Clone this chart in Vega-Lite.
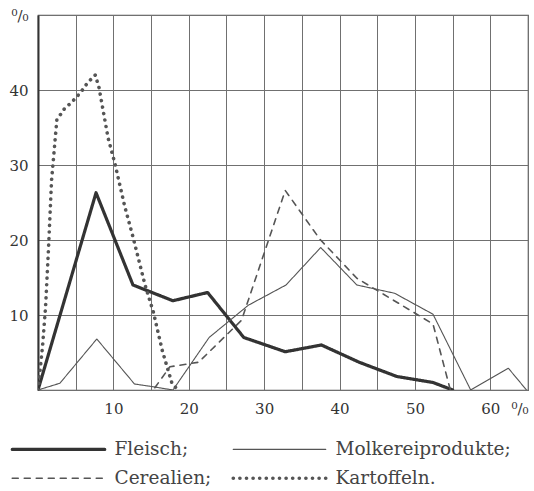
{
  "$schema": "https://vega.github.io/schema/vega-lite/v6.json",
  "width": 490,
  "height": 375,
  "autosize": "none",
  "padding": {"left": 38, "top": 15, "right": 6, "bottom": 101},
  "background": "white",
  "config": {
    "view": {"stroke": "#555", "strokeWidth": 1.2},
    "axis": {"labelFont": "DejaVu Serif", "labelFontSize": 15, "labelColor": "#333", "ticks": false, "gridColor": "#707070", "gridOpacity": 1, "gridWidth": 1, "domainColor": "#333", "title": null},
    "legend": {"labelFont": "DejaVu Serif", "labelFontSize": 18.5, "labelColor": "#444", "title": null, "labelLimit": 400,
      "orient": "none", "legendX": -30, "legendY": 425, "columns": 2, "direction": "horizontal",
      "symbolType": "M-1,0H17.5", "symbolSize": 100, "labelOffset": 88, "columnPadding": 14, "rowPadding": 10}
  },
  "data": {"values": [
    {"s": "Fleisch;", "x": 0, "y": 0},
    {"s": "Fleisch;", "x": 7.7, "y": 26.3},
    {"s": "Fleisch;", "x": 12.6, "y": 14},
    {"s": "Fleisch;", "x": 17.9, "y": 11.9},
    {"s": "Fleisch;", "x": 22.5, "y": 13},
    {"s": "Fleisch;", "x": 27.3, "y": 7},
    {"s": "Fleisch;", "x": 32.8, "y": 5.1},
    {"s": "Fleisch;", "x": 37.6, "y": 6},
    {"s": "Fleisch;", "x": 42.6, "y": 3.7},
    {"s": "Fleisch;", "x": 47.6, "y": 1.8},
    {"s": "Fleisch;", "x": 52.4, "y": 1},
    {"s": "Fleisch;", "x": 55, "y": 0},
    {"s": "Molkereiprodukte;", "x": 0, "y": 0},
    {"s": "Molkereiprodukte;", "x": 2.9, "y": 0.9},
    {"s": "Molkereiprodukte;", "x": 7.8, "y": 6.8},
    {"s": "Molkereiprodukte;", "x": 12.8, "y": 0.8},
    {"s": "Molkereiprodukte;", "x": 15.5, "y": 0.4},
    {"s": "Molkereiprodukte;", "x": 17.9, "y": 0},
    {"s": "Molkereiprodukte;", "x": 22.7, "y": 7},
    {"s": "Molkereiprodukte;", "x": 27.9, "y": 11.3},
    {"s": "Molkereiprodukte;", "x": 32.9, "y": 14},
    {"s": "Molkereiprodukte;", "x": 37.5, "y": 19},
    {"s": "Molkereiprodukte;", "x": 42.3, "y": 14},
    {"s": "Molkereiprodukte;", "x": 47.3, "y": 12.9},
    {"s": "Molkereiprodukte;", "x": 52.4, "y": 10.1},
    {"s": "Molkereiprodukte;", "x": 57.4, "y": 0},
    {"s": "Molkereiprodukte;", "x": 62.4, "y": 2.9},
    {"s": "Molkereiprodukte;", "x": 64.8, "y": 0},
    {"s": "Cerealien;", "x": 15.5, "y": 0.3},
    {"s": "Cerealien;", "x": 17.5, "y": 3.1},
    {"s": "Cerealien;", "x": 21.3, "y": 3.7},
    {"s": "Cerealien;", "x": 27, "y": 9.3},
    {"s": "Cerealien;", "x": 32.8, "y": 26.6},
    {"s": "Cerealien;", "x": 37.4, "y": 20.1},
    {"s": "Cerealien;", "x": 42.3, "y": 14.9},
    {"s": "Cerealien;", "x": 52.4, "y": 8.8},
    {"s": "Cerealien;", "x": 54.7, "y": 0},
    {"s": "Kartoffeln.", "x": 0, "y": 0},
    {"s": "Kartoffeln.", "x": 0.6, "y": 5.8},
    {"s": "Kartoffeln.", "x": 1.0, "y": 11},
    {"s": "Kartoffeln.", "x": 1.4, "y": 19},
    {"s": "Kartoffeln.", "x": 1.8, "y": 28},
    {"s": "Kartoffeln.", "x": 2.5, "y": 36},
    {"s": "Kartoffeln.", "x": 3.5, "y": 37.5},
    {"s": "Kartoffeln.", "x": 4.5, "y": 38.4},
    {"s": "Kartoffeln.", "x": 5.6, "y": 39.6},
    {"s": "Kartoffeln.", "x": 6.6, "y": 41},
    {"s": "Kartoffeln.", "x": 7.6, "y": 42},
    {"s": "Kartoffeln.", "x": 8.1, "y": 40.3},
    {"s": "Kartoffeln.", "x": 9.3, "y": 33.6},
    {"s": "Kartoffeln.", "x": 10.2, "y": 30.2},
    {"s": "Kartoffeln.", "x": 11.5, "y": 24.5},
    {"s": "Kartoffeln.", "x": 12.6, "y": 20.4},
    {"s": "Kartoffeln.", "x": 14.2, "y": 14},
    {"s": "Kartoffeln.", "x": 15.3, "y": 10.4},
    {"s": "Kartoffeln.", "x": 16.5, "y": 5.2},
    {"s": "Kartoffeln.", "x": 17.8, "y": 0.8},
    {"s": "Kartoffeln.", "x": 18.6, "y": 0}
  ]},
  "mark": {"type": "line", "strokeCap": "round", "strokeJoin": "round", "clip": true},
  "encoding": {
    "x": {"field": "x", "type": "quantitative",
      "scale": {"domain": [0, 65], "nice": false, "zero": false},
      "axis": {"values": [0,5,10,15,20,25,30,35,40,45,50,55,60,65], "labelPadding": 11, "domain": false,
        "labelExpr": "datum.value == 65 ? '⁰/₀' : (datum.value % 10 == 0 && datum.value > 0 ? datum.label : '')"}},
    "y": {"field": "y", "type": "quantitative",
      "scale": {"domain": [0, 50], "nice": false},
      "axis": {"values": [0,10,20,30,40,50], "labelPadding": 10, "domainWidth": 2,
        "labelExpr": "datum.value == 50 ? '⁰/₀' : (datum.value == 0 ? '' : datum.label)"}},
    "detail": {"field": "s"},
    "color": {"field": "s", "type": "nominal",
      "scale": {"domain": ["Fleisch;", "Molkereiprodukte;", "Cerealien;", "Kartoffeln."], "range": ["#333333", "#555555", "#555555", "#555555"]},
      "legend": {"encode": {"symbols": {"update": {"strokeCap": {"value": "round"}}}}}},
    "strokeDash": {"field": "s", "type": "nominal",
      "scale": {"domain": ["Fleisch;", "Molkereiprodukte;", "Cerealien;", "Kartoffeln."], "range": [[1, 0], [1, 0], [6, 6], [0.1, 6.5]]},
      "legend": {"encode": {"symbols": {"update": {"strokeCap": {"value": "round"}}}}}},
    "strokeWidth": {"field": "s", "type": "nominal",
      "scale": {"type": "ordinal", "domain": ["Fleisch;", "Molkereiprodukte;", "Cerealien;", "Kartoffeln."], "range": [3.2, 1.1, 1.6, 3.6]},
      "legend": {"encode": {"symbols": {"update": {"strokeCap": {"value": "round"}}}}}}
  }
}
